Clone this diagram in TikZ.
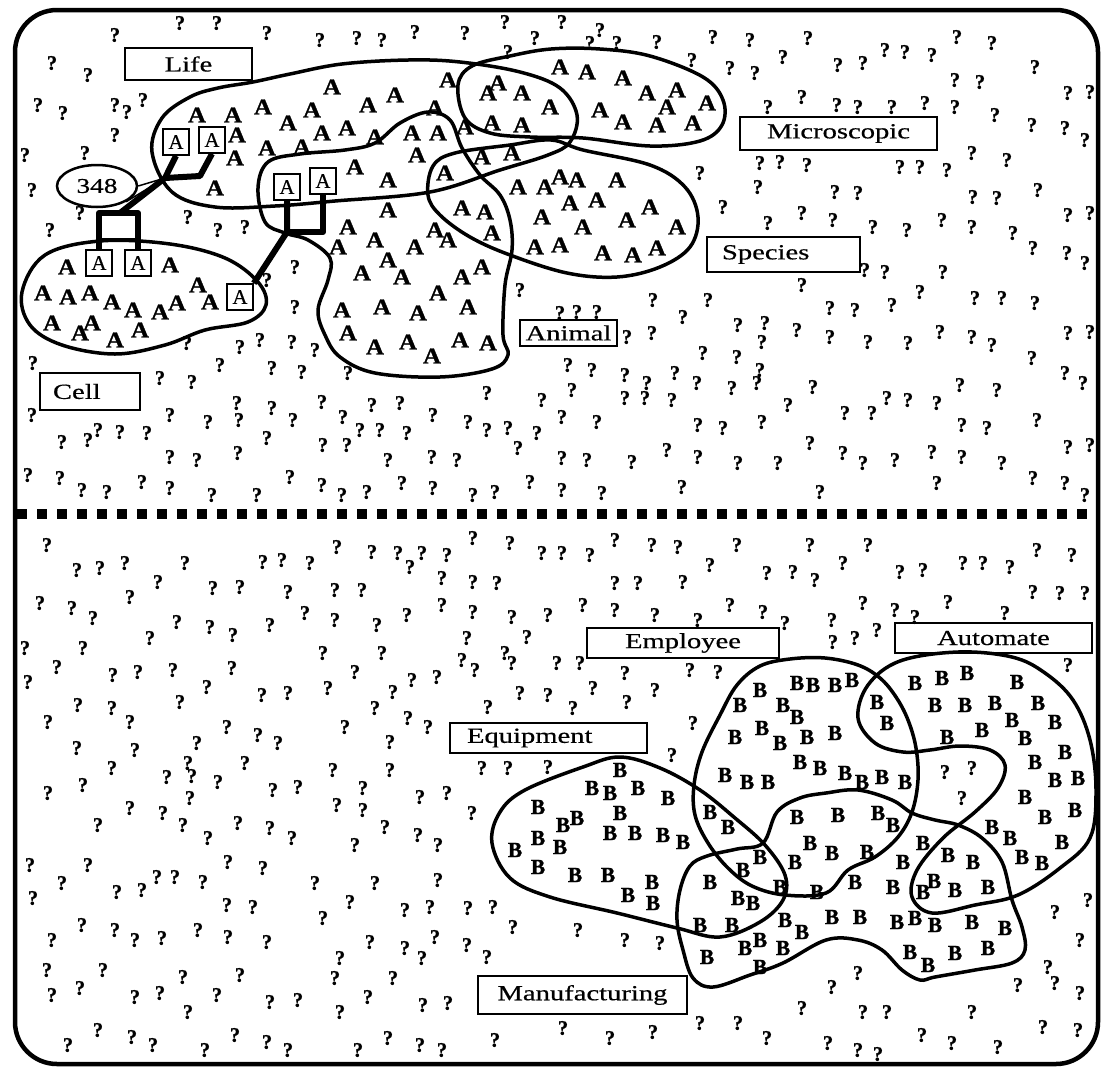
\documentclass[tikz,border=0pt]{standalone}
\usepackage{fontspec}
\setmainfont{Liberation Serif}
\newfontfamily\scanfont{Liberation Serif}[FakeBold=0.5, BoldFeatures={FakeBold=1.2}]
\usetikzlibrary{shapes.geometric,calc}
\newcommand{\wtxt}[1]{\scalebox{1.33}[1]{#1}}
\newcommand{\wA}{\scalebox{1.1}[1]{A}}
\begin{document}
\begin{tikzpicture}[x=1pt,y=-1pt,
  qm/.style={inner sep=0, font=\fontsize{20.5}{20.5}\scanfont\bfseries},
  la/.style={inner sep=0, font=\fontsize{22.5}{22.5}\scanfont\bfseries},
  lb/.style={inner sep=0, font=\fontsize{21.5}{21.5}\scanfont\bfseries},
  blob/.style={line width=3.5pt, line join=round},
  lbl/.style={draw, line width=2.5pt, inner sep=0, font=\fontsize{21.5}{21.5}\scanfont},
  boxa/.style={draw, line width=1.6pt, inner sep=0, minimum width=26pt, minimum height=26pt, font=\fontsize{21}{21}\scanfont},
  conn/.style={line width=6pt, line join=round},
  thinconn/.style={line width=1.5pt}]
\useasboundingbox (0,0) rectangle (1101,1069);
% frame and divider
\draw[line width=4.5pt, rounded corners=42pt] (15,10) rectangle (1098,1064);
\draw[line width=10pt, dash pattern=on 10pt off 10pt] (17,514) -- (1096,514);

% blobs (top)
\draw[blob] plot[smooth cycle, tension=0.6] coordinates {(22,292) (45,255) (100,241) (170,244) (225,258) (258,282) (266,305) (248,322) (205,330) (165,345) (115,354) (62,345) (30,325)};
\draw[blob] plot[smooth cycle, tension=0.6] coordinates {(152,152) (162,118) (190,97) (218,88) (253,82) (290,74) (342,64) (408,60) (460,62) (520,72) (560,88) (577,115) (570,142) (548,155) (500,170) (430,192) (335,201) (275,206) (215,207) (172,192)};
\draw[blob] plot[smooth cycle, tension=0.6] coordinates {(458,85) (472,66) (510,56) (551,49) (600,49) (650,56) (703,77) (723,100) (722,125) (700,141) (650,146) (583,138) (530,137) (490,133) (465,118)};
\draw[blob] plot[smooth cycle, tension=0.6] coordinates {(428,195) (433,166) (455,153) (510,145) (551,140) (583,150) (650,165) (685,187) (698,217) (690,247) (660,267) (617,277) (567,273) (510,255) (470,237) (440,215)};
\draw[blob] plot[smooth cycle, tension=0.6] coordinates {(258,188) (268,162) (300,154) (345,150) (375,143) (400,123) (428,112) (450,120) (462,148) (480,175) (500,195) (510,220) (512,250) (505,285) (503,335) (508,355) (492,369) (440,377) (375,373) (340,357) (325,335) (318,310) (328,280) (330,258) (308,240) (285,233) (265,222)};

% blobs (bottom)
\draw[blob] plot[smooth cycle, tension=0.6] coordinates {(492,843) (500,812) (525,790) (583,767) (620,757) (660,768) (700,790) (735,818) (765,845) (785,875) (783,900) (760,922) (720,937) (677,928) (617,913) (550,897) (510,878)};
\draw[blob] plot[smooth cycle, tension=0.6] coordinates {(720,715) (737,685) (760,666) (790,659) (825,658) (858,665) (880,678) (896,697) (908,720) (916,748) (918,780) (912,812) (898,837) (875,857) (848,870) (826,893) (785,895) (752,886) (728,868) (708,843) (695,815) (694,785) (702,752)};
\draw[blob] plot[smooth cycle, tension=0.6] coordinates {(858,718) (868,685) (900,661) (958,652) (1012,657) (1045,673) (1073,700) (1090,740) (1096,790) (1090,838) (1060,868) (1018,895) (975,905) (932,913) (912,897) (917,870) (943,838) (975,812) (998,788) (1005,765) (990,750) (960,746) (930,750) (903,752) (875,743)};
\draw[blob] plot[smooth cycle, tension=0.6] coordinates {(693,978) (683,950) (677,920) (680,890) (690,866) (707,856) (737,849) (763,843) (777,812) (800,798) (826,793) (858,790) (892,800) (912,813) (935,820) (958,825) (982,838) (1002,862) (1012,900) (1022,927) (1025,950) (1012,963) (975,970) (935,977) (920,980) (902,970) (882,950) (858,940) (826,940) (783,963) (750,975) (713,987)};

% labels
\node[lbl, minimum width=127pt, minimum height=32pt] (life) at (188.5,64) {\wtxt{Life}};
\node[lbl, minimum width=197pt, minimum height=33pt] (micro) at (838.5,133.5) {\wtxt{Microscopic}};
\node[lbl, text width=123pt, inner xsep=15pt, align=left, minimum height=35pt] (species) at (783.5,254.5) {\wtxt{Species}};
\node[lbl, minimum width=97pt, minimum height=26pt] (animal) at (568.5,333) {\wtxt{Animal}};
\node[lbl, text width=74pt, inner xsep=13pt, align=left, minimum height=37pt] (cell) at (90,391.5) {\wtxt{Cell}};
\node[lbl, minimum width=192pt, minimum height=30pt] (employee) at (683,643) {\wtxt{Employee}};
\node[lbl, minimum width=197pt, minimum height=30pt] (automate) at (993.5,638) {\wtxt{Automate}};
\node[lbl, text width=163pt, inner xsep=17pt, align=left, minimum height=30pt] (equipment) at (548.5,738) {\wtxt{Equipment}};
\node[lbl, minimum width=209pt, minimum height=38pt] (manuf) at (582.5,995) {\wtxt{Manufacturing}};

% boxed A nodes and 348
\node[boxa] (lA1) at (176,142) {A};
\node[boxa] (lA2) at (212,140) {A};
\node[boxa] (aA1) at (287,187) {A};
\node[boxa] (aA2) at (323,181) {A};
\node[boxa] (cA1) at (99,263) {A};
\node[boxa] (cA2) at (138,263) {A};
\node[boxa] (cA3) at (240,297) {A};
\node[ellipse, draw, line width=2.5pt, minimum width=80pt, minimum height=42pt, inner sep=0, font=\fontsize{21}{21}\scanfont] (n348) at (97,186) {\scalebox{1.3}[1]{348}};

\coordinate (j1) at (120,213);
\coordinate (jn) at (165,178);
\coordinate (jb) at (200,176);
\coordinate (j2) at (305,232);
\coordinate (j3) at (287,232);

\draw[conn] (cA1.north) |- (j1) -| (cA2.north);
\draw[thinconn] ($(cA1.north)+(0,-10)$) -- ($(cA2.north)+(0,-10)$);
\draw[conn] (j1) -- (jn) -- (lA1.south);
\draw[conn] (lA2.south) -- (jb) -- (jn);
\draw[thinconn] (n348.east) -- (jn);
\draw[thinconn] (n348.south east) -- (jn);
\draw[conn] (cA3.north east) -- (j3) -- (aA1.south);
\draw[conn] (j3) -| (aA2.south);

% A letters
\foreach \x/\y [count=\i] in {197/115,233/115,263/107,237/135,235/158,267/148,215/188,332/87,395/95,368/105,312/110,288/123,322/133,347/128,375/137,412/133,435/108,438/133,448/80,302/147,355/167,388/180,417/155,445/173,482/157,512/153,465/127,492/123,522/125,488/93,498/83,522/93,560/67,587/72,623/78,647/93,677/90,707/103,600/110,623/122,657/125,667/107,693/123,550/107,
518/187,545/187,462/208,485/212,492/233,542/217,535/247,388/210,348/227,375/240,338/247,415/247,435/230,448/240,388/260,362/273,402/277,462/277,482/267,438/293,342/310,382/307,418/313,468/307,348/333,375/347,408/342,432/356,460/340,488/343,
560/177,577/180,617/180,570/203,597/200,650/207,583/227,627/220,677/227,560/245,603/253,633/255,657/248,
67/267,170/265,43/293,68/297,90/293,112/302,133/310,160/312,177/303,198/285,210/302,52/323,80/333,92/323,115/340,140/330}
  \node[la] (a\i) at (\x,\y) {\wA};

% B letters
\foreach \x/\y [count=\i] in {760/690,797/683,813/685,740/705,783/705,835/685,852/680,877/702,797/717,735/737,762/728,780/743,807/737,800/762,820/768,725/775,747/782,768/782,
915/683,942/678,967/673,1017/682,935/705,965/705,995/703,1038/703,887/723,982/730,1012/720,1055/722,1025/738,1065/752,1035/762,1055/780,1078/778,1025/797,1045/817,1075/810,1062/842,992/827,1010/838,1022/857,1042/863,947/737,
835/733,845/773,862/782,882/777,905/782,838/815,878/813,893/825,832/853,867/852,855/882,903/862,923/843,948/855,973/862,893/887,923/892,934/881,955/890,988/887,832/917,860/917,897/922,915/918,935/925,972/922,1005/928,910/952,955/953,988/948,928/965,
620/770,592/788,610/793,638/788,668/798,563/825,577/818,620/813,610/833,635/833,663/835,683/842,560/847,575/875,608/875,628/895,652/882,653/903,538/807,515/850,538/838,538/867,
710/812,728/827,797/817,810/843,795/862,743/870,760/857,710/882,738/898,753/903,780/887,817/892,700/925,732/925,785/920,802/932,760/940,745/948,783/948,760/967,707/957}
  \node[lb] (b\i) at (\x,\y) {B};

% question marks, upper half
\foreach \x/\y [count=\i] in {115/35,180/23,217/23,267/33,52/63,88/75,38/105,63/113,115/105,127/112,143/100,115/135,25/155,85/153,32/190,80/213,50/230,188/217,218/230,245/227,267/280,187/343,240/347,260/340,
320/40,357/38,382/40,415/32,465/33,505/22,535/38,508/52,295/267,295/307,292/342,315/350,520/290,
562/22,600/30,590/43,617/43,657/42,713/37,750/40,783/57,808/38,692/60,730/68,755/73,802/97,768/107,760/163,780/162,807/165,758/187,700/173,723/207,802/213,768/223,802/285,653/300,708/300,683/317,738/325,765/323,762/342,797/330,652/333,627/337,560/313,577/312,597/312,703/353,737/357,
957/37,992/43,885/50,905/52,932/55,838/65,863/63,1035/67,955/80,980/82,1068/93,1090/92,837/105,858/107,892/107,925/103,955/107,995/115,1032/125,1065/128,1085/140,900/167,920/167,947/170,972/153,1007/160,835/192,858/193,973/197,997/198,1038/190,1068/215,1090/213,833/220,873/227,907/230,942/220,972/227,1013/233,1033/248,1067/253,1085/263,865/270,885/272,943/272,920/292,830/308,855/310,892/305,975/298,1002/298,1035/303,830/337,868/342,908/343,940/332,972/337,992/345,1068/333,1090/332,1032/358,
33/363,32/415,62/442,88/440,98/430,120/432,147/433,160/378,192/382,220/365,170/415,208/422,237/403,239/420,272/368,272/408,267/438,170/457,197/460,238/453,28/475,60/478,82/490,107/492,142/482,170/488,212/495,257/495,
302/372,348/373,322/402,372/405,400/403,433/415,487/393,542/400,293/420,343/417,360/430,380/430,407/433,468/422,487/430,508/428,518/448,537/433,323/445,347/445,388/460,432/457,457/460,290/477,322/485,342/495,367/492,402/483,433/488,473/495,495/492,530/482,
568/365,592/370,625/375,647/383,625/398,645/398,672/400,675/373,697/383,732/388,757/383,760/370,813/387,788/405,572/390,562/417,597/422,698/425,723/428,762/422,810/443,562/458,587/460,632/462,667/450,698/457,738/463,778/463,562/490,602/493,682/487,820/492,
1065/373,1083/383,960/385,997/390,887/398,908/400,937/403,845/413,872/413,962/425,987/428,1037/420,1068/447,1090/445,843/453,863/463,895/460,932/452,962/457,1002/463,1033/478,1065/483,1085/495,937/483}
  \node[qm] (qa\i) at (\x,\y) {?};

% question marks, lower half
\foreach \x/\y [count=\i] in {47/545,77/570,100/568,125/563,158/582,185/563,213/588,240/587,263/562,40/603,72/608,93/618,130/597,177/622,210/627,233/635,270/625,25/648,83/648,150/638,57/667,28/682,113/675,138/672,173/670,207/687,232/668,262/695,78/705,112/708,180/702,
473/538,510/543,542/553,337/547,372/552,398/553,422/553,410/567,447/555,282/560,310/563,288/592,335/590,362/590,442/578,473/582,497/583,442/605,305/613,335/620,377/625,407/615,473/612,512/617,548/615,527/637,467/638,323/653,382/653,462/660,475/670,505/653,512/663,355/672,412/680,437/677,328/688,393/692,288/693,520/693,548/695,375/708,488/707,
562/553,590/555,615/540,652/545,678/547,710/565,737/545,810/545,615/583,638/583,683/582,767/573,793/572,815/580,583/605,615/610,655/615,698/620,730/605,763/612,785/623,557/663,580/663,625/673,690/670,718/672,593/688,655/690,627/702,573/708,
868/545,843/563,900/572,923/570,963/563,983/563,1010/567,1037/550,1072/555,1033/592,1060/593,1085/593,863/603,895/610,948/602,915/617,1005/613,832/620,833/642,855/638,877/630,1068/665,
48/722,130/722,227/727,258/735,77/748,135/750,197/743,112/768,167/777,188/763,192/776,218/782,245/763,48/793,83/785,190/798,273/790,98/825,130/808,163/813,183/825,208/838,238/823,270/828,30/865,88/865,62/883,33/898,117/892,142/890,157/877,175/877,203/882,228/862,263/868,227/905,253/907,52/940,82/925,115/930,135/940,162/938,198/930,228/937,267/942,47/970,103/970,80/988,183/977,240/975,52/995,135/997,160/993,188/1012,217/995,270/1002,68/1045,98/1030,132/1037,153/1045,205/1050,235/1035,267/1042,
278/743,345/727,408/718,428/727,390/742,333/770,390/770,298/787,337/805,363/788,363/810,420/797,447/793,472/813,292/838,355/845,385/827,418/835,438/845,315/883,375/883,438/880,350/902,323/918,405/910,430/907,468/908,493/907,513/927,370/942,405/948,422/958,435/937,467/945,487/957,340/958,335/978,393/978,298/1000,368/997,423/1005,448/1003,340/1012,288/1050,358/1050,388/1038,420/1045,442/1050,495/1040,482/768,508/768,548/767,
693/723,672/755,578/930,625/940,660/943,563/1028,610/1038,653/1032,700/1023,738/1023,767/1038,802/1008,
945/772,972/768,962/798,1088/900,1055/912,1080/940,1048/967,1055/983,1018/985,1080/993,858/973,832/987,863/1012,887/1012,972/1012,922/1035,952/1043,998/1047,1043/1027,1078/1030,858/1050,878/1054,828/1043}
  \node[qm] (qb\i) at (\x,\y) {?};
\end{tikzpicture}
\end{document}
